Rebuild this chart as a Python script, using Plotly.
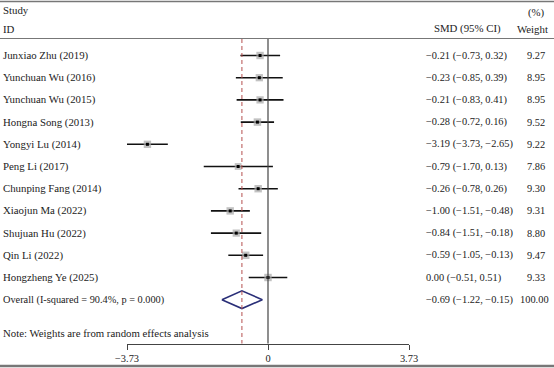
import plotly.graph_objects as go
import math

studies = ["Junxiao Zhu (2019)", "Yunchuan Wu (2016)", "Yunchuan Wu (2015)", "Hongna Song (2013)",
           "Yongyi Lu (2014)", "Peng Li (2017)", "Chunping Fang (2014)", "Xiaojun Ma (2022)",
           "Shujuan Hu (2022)", "Qin Li (2022)", "Hongzheng Ye (2025)"]
smd = [-0.21, -0.23, -0.21, -0.28, -3.19, -0.79, -0.26, -1.00, -0.84, -0.59, 0.00]
lo = [-0.73, -0.85, -0.83, -0.72, -3.73, -1.70, -0.78, -1.51, -1.51, -1.05, -0.51]
hi = [0.32, 0.39, 0.41, 0.16, -2.65, 0.13, 0.26, -0.48, -0.18, -0.13, 0.51]
weights = [9.27, 8.95, 8.95, 9.52, 9.22, 7.86, 9.30, 9.31, 8.80, 9.47, 9.33]
overall_label = "Overall (I-squared = 90.4%, p = 0.000)"
overall = {"smd": -0.69, "lo": -1.22, "hi": -0.15, "weight": 100.00}
tick_vals = [-3.73, 0, 3.73]
tick_text = ["\u22123.73", "0", "3.73"]

W, H = 554, 368
FONT = "Liberation Serif, Times New Roman, serif"
TXT = "#222222"
FS = 10.8
FSN = 10.4

def py(p):  # pixel y -> paper y
    return 1 - p / H

def px(p):
    return p / W

def fmt(v):
    s = f"{abs(v):.2f}"
    return ("\u2212" if v < 0 else "") + s

fig = go.Figure()
rows = list(range(len(studies)))

# CI lines
for i in rows:
    fig.add_trace(go.Scatter(x=[lo[i], hi[i]], y=[i, i], mode="lines",
                             line=dict(color="#111111", width=1.6), hoverinfo="skip", showlegend=False))
# boxes
fig.add_trace(go.Scatter(x=smd, y=rows, mode="markers",
                         marker=dict(symbol="square", color="#a8a8a8",
                                     size=[7.5 * math.sqrt(w / 9.5) for w in weights], line=dict(width=0)),
                         hoverinfo="skip", showlegend=False))
# dots
fig.add_trace(go.Scatter(x=smd, y=rows, mode="markers",
                         marker=dict(symbol="square", color="#000000", size=3),
                         hoverinfo="skip", showlegend=False))
# diamond
yo = len(studies)
hd = 0.4
fig.add_trace(go.Scatter(x=[overall["lo"], overall["smd"], overall["hi"], overall["smd"], overall["lo"]],
                         y=[yo, yo - hd, yo, yo + hd, yo], mode="lines",
                         line=dict(color="#2a2f78", width=1.6), hoverinfo="skip", showlegend=False))

shapes = []
# borders
for p, col, w in [(1.5, "#777777", 1.5), (38.5, "#777777", 1.2), (366, "#777777", 2.5)]:
    shapes.append(dict(type="line", xref="paper", yref="paper", x0=0, x1=1, y0=py(p), y1=py(p),
                       line=dict(color=col, width=w)))
# zero line
shapes.append(dict(type="line", xref="x", yref="paper", x0=0, x1=0, y0=py(39), y1=py(343.5),
                   line=dict(color="#444444", width=1.2)))
# overall dashed
shapes.append(dict(type="line", xref="x", yref="paper", x0=overall["smd"], x1=overall["smd"],
                   y0=py(39), y1=py(343.5), line=dict(color="#b5504f", width=1, dash="4px,3px")))

ann = []
def text(x, yv, s, anchor="left", yref="y", size=FS):
    ann.append(dict(x=x, y=yv, xref="paper", yref=yref, text=s, showarrow=False,
                    xanchor=anchor, yanchor="middle", borderpad=0,
                    font=dict(family=FONT, size=size, color=TXT)))

text(px(2), py(10), "Study", yref="paper")
text(px(2), py(28.5), "ID", yref="paper")
text(px(536), py(12), "(%)", anchor="center", yref="paper")
text(px(502), py(28.5), "SMD (95% CI)", anchor="right", yref="paper")
text(px(549), py(28.5), "Weight", anchor="right", yref="paper")

for i in rows:
    text(px(2), i, studies[i])
    text(px(425), i, f"{fmt(smd[i])} ({fmt(lo[i])}, {fmt(hi[i])})", size=FSN)
    text(px(546), i, f"{weights[i]:.2f}", anchor="right", size=FSN)
text(px(2), yo, overall_label, size=10.3)
text(px(425), yo, f"{fmt(overall['smd'])} ({fmt(overall['lo'])}, {fmt(overall['hi'])})", size=FSN)
text(px(550), yo, f"{overall['weight']:.2f}", anchor="right", size=FSN)
text(px(2), py(333), "Note: Weights are from random effects analysis", yref="paper")

y_top = (0 - 55.5) / 22.2
y_bot = (H - 55.5) / 22.2

fig.update_layout(
    width=W, height=H, autosize=False, margin=dict(l=0, r=0, t=0, b=0, pad=0),
    paper_bgcolor="white", plot_bgcolor="white", showlegend=False,
    shapes=shapes, annotations=ann,
    xaxis=dict(domain=[px(127), px(409)], range=[-3.73, 3.73], anchor="free", position=py(343.5),
               automargin=False,
               showgrid=False, zeroline=False, showline=True, linecolor="#444444", linewidth=1.2,
               ticks="outside", ticklen=5, tickcolor="#444444", tickwidth=1.2,
               tickvals=tick_vals, ticktext=tick_text,
               tickfont=dict(family=FONT, size=FSN, color=TXT)),
    yaxis=dict(domain=[0, 1], range=[y_bot, y_top], visible=False, automargin=False,
               showgrid=False, zeroline=False),
)

fig.write_html("out.html")
